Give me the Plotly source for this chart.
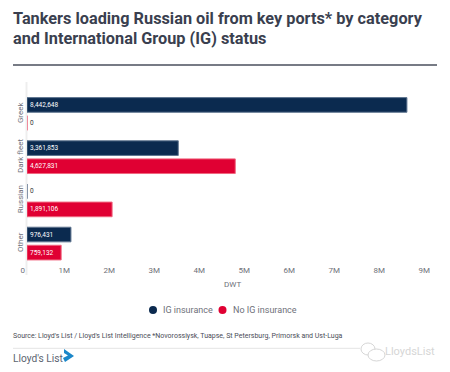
import plotly.graph_objects as go

categories = ["Greek", "Dark fleet", "Russian", "Other"]
ig_values = [8442648, 3361853, 0, 976431]
no_ig_values = [0, 4627831, 1891106, 759132]
tick_values = [0, 1e6, 2e6, 3e6, 4e6, 5e6, 6e6, 7e6, 8e6, 9e6]
tick_labels = ["0", "1M", "2M", "3M", "4M", "5M", "6M", "7M", "8M", "9M"]
series_names = ["IG insurance", "No IG insurance"]
series_colors = ["#0b2a4f", "#e00033"]
edge_colors = ["#5f7590", "#f0667f"]

W, H = 450, 372
L, R, T, B = 27, 18, 82, 108
FONT = "Roboto"
GREY = "#6e7079"
DARK = "#3a3f4f"


def fx(x):
    return (x - L) / (W - L - R)


def fy(y):
    return (H - B - y) / (H - T - B)


fig = go.Figure()
for name, vals, col, edge in zip(series_names, [ig_values, no_ig_values], series_colors, edge_colors):
    fig.add_trace(go.Bar(
        y=categories, x=vals, orientation="h", name=name, showlegend=False,
        marker=dict(color=col, line=dict(color=edge, width=1)),
        text=[f"{v:,}" for v in vals],
        textposition=["inside" if v else "outside" for v in vals],
        insidetextanchor="start",
        textangle=0,
        constraintext="none",
        cliponaxis=False,
        insidetextfont=dict(color="white", size=6.5, family=FONT),
        outsidetextfont=dict(color="#333333", size=6.5, family=FONT),
    ))

fig.update_layout(
    width=W, height=H,
    margin=dict(l=L, r=R, t=T, b=B),
    paper_bgcolor="white", plot_bgcolor="white",
    barmode="group", bargap=0.163, bargroupgap=0.19,
    showlegend=False,
    font=dict(family=FONT, color=GREY, size=8),
    xaxis=dict(
        range=[0, 9e6], tickvals=tick_values, ticktext=tick_labels,
        ticklabelposition="outside left", ticklabelshift=-2,
        showgrid=False, zeroline=False,
        showline=False, ticks="", tickfont=dict(size=8, color=GREY),
    ),
    yaxis=dict(
        categoryorder="array", categoryarray=categories,
        range=[3.473, -0.74], tickangle=-90, showgrid=False, zeroline=False,
        showline=False, ticks="", ticklabelstandoff=1,
        tickfont=dict(size=8, color=GREY),
    ),
)


def note(text, x, y, size, color, bold=False, anchor="left"):
    fig.add_annotation(
        xref="paper", yref="paper", x=fx(x), y=fy(y),
        text=f"<b>{text}</b>" if bold else text, showarrow=False, xanchor=anchor, yanchor="middle",
        align="left", font=dict(size=size, color=color, family=FONT),
        borderpad=0, borderwidth=0,
    )


def line(x0, y0, x1, y1, color, width):
    fig.add_shape(type="line", xref="paper", yref="paper",
                  x0=fx(x0), x1=fx(x1), y0=fy(y0), y1=fy(y1),
                  line=dict(color=color, width=width), layer="below")


def ellipse(x0, y0, x1, y1, fill=None, edge=None, width=0):
    fig.add_shape(type="circle", xref="paper", yref="paper",
                  x0=fx(x0), x1=fx(x1), y0=fy(y0), y1=fy(y1),
                  fillcolor=fill or "rgba(0,0,0,0)",
                  line=dict(color=edge or "rgba(0,0,0,0)", width=width))


def poly(points, fill):
    path = "M " + " L ".join(f"{fx(x):.5f},{fy(y):.5f}" for x, y in points) + " Z"
    fig.add_shape(type="path", xref="paper", yref="paper", path=path,
                  fillcolor=fill, line=dict(width=0))


note("Tankers loading Russian oil from key ports* by category", 13, 19, 16.3, DARK, True)
note("and International Group (IG) status", 13, 38.5, 16.3, DARK, True)
note("DWT", 232, 284, 8, GREY, anchor="center")
note(series_names[0], 163, 310, 9, GREY)
note(series_names[1], 233, 310, 9, GREY)
ellipse(149, 306, 157, 314, fill=series_colors[0])
ellipse(218.5, 306, 226.5, 314, fill=series_colors[1])
note("Source: Lloyd's List / Lloyd's List Intelligence *Novorossiysk, Tuapse, St Petersburg, Primorsk and Ust-Luga",
     13, 336, 7, "#4a4d57")
note("Lloyd's List", 13, 358, 10.2, "#5c6470")
note("LloydsList", 385, 351, 11, "#d6d6d6")

line(13, 65, 437, 65, "#4a4f5c", 1.3)
line(26.5, 82, 26.5, 275, "#eeeeee", 2)
line(13, 348.3, 360, 348.3, "#e4e4e4", 1)
poly([(64, 349), (74, 356), (65, 362), (63, 358), (68, 355.5), (64, 353)], "#1b87c9")
ellipse(361, 343, 375, 355, edge="#d6d6d6", width=1)
ellipse(368, 349, 385, 361, fill="white", edge="#d6d6d6", width=1)

fig.write_html("out.html", config=dict(displayModeBar=False),
               post_script="document.body.style.margin='0';")
